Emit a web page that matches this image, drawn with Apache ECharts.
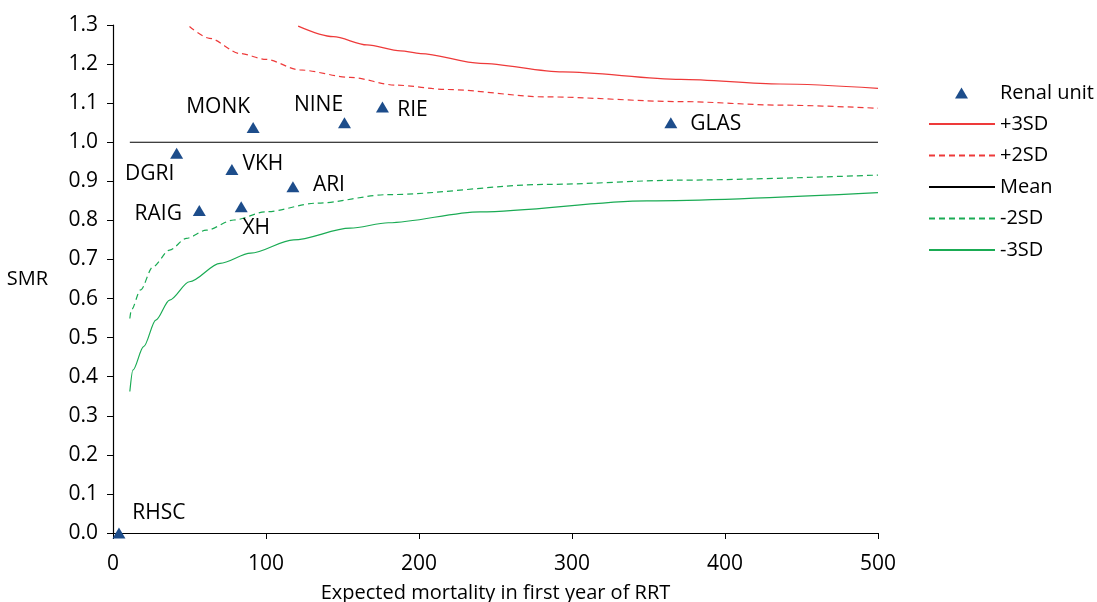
<!DOCTYPE html>
<html>
<head>
<meta charset="utf-8">
<script src="https://cdn.jsdelivr.net/npm/echarts@6/dist/echarts.min.js"></script>
<style>
  html, body { margin: 0; padding: 0; background: #fff; }
  #chart { width: 1097px; height: 602px; }
</style>
</head>
<body>
<div id="chart"></div>
<script>
// Unidades renales: mortalidad esperada y SMR
const unitNames    = ['RHSC', 'DGRI', 'MONK', 'VKH', 'RAIG', 'XH', 'ARI', 'NINE', 'RIE', 'GLAS'];
const unitExpected = [3.9, 41.6, 91.6, 77.7, 56.4, 83.8, 117.6, 151.3, 176.1, 364.6];
const unitSMR      = [0.0, 0.972, 1.038, 0.930, 0.825, 0.835, 0.886, 1.050, 1.090, 1.050];

// Límites del embudo
const plus3X  = [121, 144, 166, 188, 201, 240, 294, 371, 436, 500];
const plus3Y  = [1.297, 1.270, 1.249, 1.234, 1.227, 1.202, 1.180, 1.161, 1.149, 1.138];
const plus2X  = [50, 63, 83, 100, 122, 155, 185, 218, 283, 371, 436, 500];
const plus2Y  = [1.296, 1.266, 1.227, 1.212, 1.185, 1.166, 1.146, 1.135, 1.116, 1.104, 1.095, 1.087];
const meanX   = [11, 500];
const meanY   = [1.0, 1.0];
const minus2X = [11, 12, 18, 26, 37, 48, 61, 79, 100, 133, 180, 283, 371, 500];
const minus2Y = [0.549, 0.571, 0.622, 0.681, 0.724, 0.754, 0.775, 0.801, 0.822, 0.844, 0.866, 0.892, 0.903, 0.916];
const minus3X = [11, 13, 20, 28, 37, 50, 70, 90, 118, 155, 180, 240, 349, 500];
const minus3Y = [0.362, 0.417, 0.477, 0.545, 0.596, 0.643, 0.690, 0.716, 0.750, 0.780, 0.794, 0.822, 0.850, 0.871];

const yTicks = [0, 1.3, 0.1];
const xTicks = [0, 500, 100];

// Desplazamiento de cada etiqueta respecto a su marcador (px)
const labelOffsets = {
    RHSC: [40, -20], DGRI: [-27, 21], MONK: [-35, -20], VKH: [31, -6], RAIG: [-41, 3],
    XH: [15, 21], ARI: [36, -2], NINE: [-26, -18], RIE: [30, 3], GLAS: [45, 1]
};

const FONT = '"Open Sans", sans-serif';
const INK = '#000000';
const RED = '#ee3a3a';
const GREEN = '#1aab54';
const BLUE = '#1d4d8b';

const pares = (xs, ys) => xs.map((x, i) => [x, ys[i]]);

const chart = echarts.init(document.getElementById('chart'));

const lineSerie = (name, xs, ys, color, type) => ({
    name: name,
    type: 'line',
    data: pares(xs, ys),
    symbol: 'circle',
    showSymbol: false,
    smooth: 0.3,
    smoothMonotone: 'x',
    lineStyle: { color: color, width: 1.2, type: type },
    itemStyle: { color: color },
    z: 2
});

chart.setOption({
    animation: false,
    textStyle: { fontFamily: FONT },
    grid: { left: 113, right: 219, top: 25, bottom: 69, outerBoundsMode: 'none' },
    legend: [
        {
            // leyenda del marcador
            orient: 'vertical',
            left: 955,
            top: 83,
            padding: 0,
            itemWidth: 13,
            itemHeight: 11,
            itemStyle: { opacity: 1 },
            textStyle: { fontFamily: FONT, fontSize: 20, color: INK, lineHeight: 20, padding: [0, 0, 0, 27] },
            data: ['Renal unit']
        },
        {
            // leyenda de las líneas
            orient: 'vertical',
            left: 928,
            top: 114,
            padding: 0,
            itemWidth: 66,
            itemHeight: 12,
            itemGap: 11.5,
            itemStyle: { opacity: 0 },
            textStyle: { fontFamily: FONT, fontSize: 20, color: INK, lineHeight: 20 },
            data: ['+3SD', '+2SD', 'Mean', '-2SD', '-3SD']
        }
    ],
    xAxis: {
        type: 'value',
        min: xTicks[0],
        max: xTicks[1],
        interval: xTicks[2],
        name: 'Expected mortality in first year of RRT',
        nameLocation: 'middle',
        nameGap: 50,
        nameTextStyle: { fontFamily: FONT, fontSize: 20, color: INK },
        axisLine: { lineStyle: { color: INK, width: 1.2 } },
        axisTick: { show: true, length: 6, lineStyle: { color: INK } },
        axisLabel: { fontFamily: FONT, fontSize: 21, color: INK, margin: 21 },
        splitLine: { show: false }
    },
    yAxis: {
        type: 'value',
        min: yTicks[0],
        max: yTicks[1],
        interval: yTicks[2],
        name: 'SMR',
        nameLocation: 'middle',
        nameRotate: 0,
        nameGap: 65,
        nameTextStyle: { fontFamily: FONT, fontSize: 20, color: INK, padding: [0, 0, 32, 0] },
        axisLine: { show: true, lineStyle: { color: INK, width: 1.2 } },
        axisTick: { show: true, length: 6, lineStyle: { color: INK } },
        axisLabel: {
            fontFamily: FONT, fontSize: 21, color: INK, margin: 15,
            formatter: v => v.toFixed(1)
        },
        splitLine: { show: false }
    },
    series: [
        {
            name: 'Renal unit',
            type: 'scatter',
            symbol: 'triangle',
            symbolSize: [13, 11],
            itemStyle: { color: BLUE, opacity: 1 },
            z: 5,
            data: unitNames.map((n, i) => ({
                name: n,
                value: [unitExpected[i], unitSMR[i]],
                label: {
                    show: true,
                    position: 'inside',
                    formatter: n,
                    offset: labelOffsets[n],
                    fontFamily: FONT,
                    fontSize: 21,
                    color: INK
                }
            }))
        },
        lineSerie('+3SD', plus3X, plus3Y, RED, 'solid'),
        lineSerie('+2SD', plus2X, plus2Y, RED, [6, 4]),
        lineSerie('Mean', meanX, meanY, '#000000', 'solid'),
        lineSerie('-2SD', minus2X, minus2Y, GREEN, [6, 4]),
        lineSerie('-3SD', minus3X, minus3Y, GREEN, 'solid')
    ]
});
</script>
</body>
</html>
